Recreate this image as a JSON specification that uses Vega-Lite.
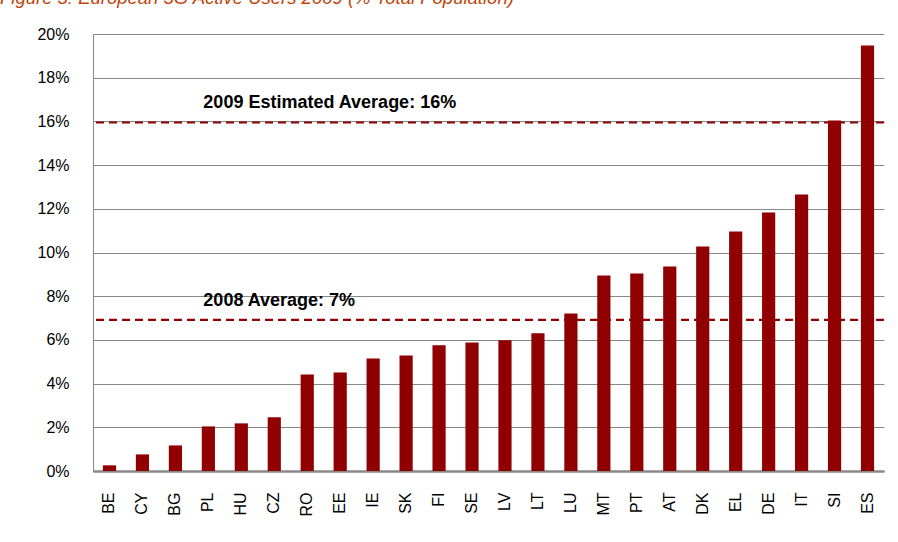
{
  "$schema": "https://vega.github.io/schema/vega-lite/v6.json",
  "width": 791,
  "height": 437,
  "autosize": {"type": "none"},
  "padding": {"left": 93, "top": 34, "right": 14, "bottom": 71},
  "background": "white",
  "title": {
    "text": "Figure 3: European 3G Active Users 2009 (% Total Population)",
    "anchor": "start",
    "frame": "group",
    "orient": "top",
    "dx": -93,
    "offset": 4,
    "baseline": "alphabetic",
    "font": "Liberation Sans",
    "fontStyle": "italic",
    "fontWeight": "normal",
    "fontSize": 18.5,
    "color": "#C0440A"
  },
  "datasets": {
    "bars": [
      {"country": "BE", "value": 0.26},
      {"country": "CY", "value": 0.76},
      {"country": "BG", "value": 1.17},
      {"country": "PL", "value": 2.04},
      {"country": "HU", "value": 2.18},
      {"country": "CZ", "value": 2.46},
      {"country": "RO", "value": 4.42},
      {"country": "EE", "value": 4.51},
      {"country": "IE", "value": 5.15},
      {"country": "SK", "value": 5.29},
      {"country": "FI", "value": 5.75},
      {"country": "SE", "value": 5.88},
      {"country": "LV", "value": 5.98},
      {"country": "LT", "value": 6.3},
      {"country": "LU", "value": 7.21},
      {"country": "MT", "value": 8.95},
      {"country": "PT", "value": 9.04},
      {"country": "AT", "value": 9.36},
      {"country": "DK", "value": 10.27},
      {"country": "EL", "value": 10.96},
      {"country": "DE", "value": 11.83},
      {"country": "IT", "value": 12.65},
      {"country": "SI", "value": 16.04},
      {"country": "ES", "value": 19.47}
    ],
    "avg": [
      {"label": "2009 Estimated Average: 16%", "value": 15.95, "anchor": "PL"},
      {"label": "2008 Average: 7%", "value": 6.92, "anchor": "PL"}
    ]
  },
  "layer": [
    {
      "data": {"name": "bars"},
      "mark": {"type": "bar", "color": "#900000"},
      "encoding": {
        "x": {
          "field": "country",
          "type": "nominal",
          "sort": null,
          "scale": {
            "domain": ["BE", "CY", "BG", "PL", "HU", "CZ", "RO", "EE", "IE", "SK", "FI", "SE", "LV", "LT", "LU", "MT", "PT", "AT", "DK", "EL", "DE", "IT", "SI", "ES"],
            "paddingInner": 0.6,
            "paddingOuter": 0.3
          },
          "axis": {
            "title": null,
            "labelAngle": -90,
            "labelAlign": "right",
            "labelBaseline": "middle",
            "labelPadding": 21,
            "ticks": false,
            "domainColor": "#888888",
            "domainWidth": 2.5,
            "labelFont": "Liberation Sans",
            "labelFontSize": 16,
            "labelColor": "#000000"
          }
        },
        "y": {
          "field": "value",
          "type": "quantitative",
          "scale": {"domain": [0, 20], "nice": false},
          "axis": {
            "title": null,
            "values": [0, 2, 4, 6, 8, 10, 12, 14, 16, 18, 20],
            "labelExpr": "datum.value + '%'",
            "ticks": false,
            "labelPadding": 24,
            "grid": true,
            "gridColor": "#888888",
            "gridWidth": 1,
            "domainColor": "#888888",
            "domainWidth": 1,
            "labelFont": "Liberation Sans",
            "labelFontSize": 16,
            "labelColor": "#000000"
          }
        }
      }
    },
    {
      "data": {"name": "avg"},
      "mark": {"type": "rule", "color": "#900000", "strokeWidth": 2.2, "strokeDash": [8, 5]},
      "encoding": {"y": {"field": "value", "type": "quantitative"}}
    },
    {
      "data": {"name": "avg"},
      "mark": {
        "type": "text",
        "align": "left",
        "baseline": "alphabetic",
        "dx": -5,
        "dy": -14,
        "font": "Liberation Sans",
        "fontWeight": "bold",
        "fontSize": 18,
        "color": "#000000"
      },
      "encoding": {
        "x": {"field": "anchor", "type": "nominal"},
        "y": {"field": "value", "type": "quantitative"},
        "text": {"field": "label"}
      }
    }
  ],
  "config": {"view": {"stroke": null}}
}
